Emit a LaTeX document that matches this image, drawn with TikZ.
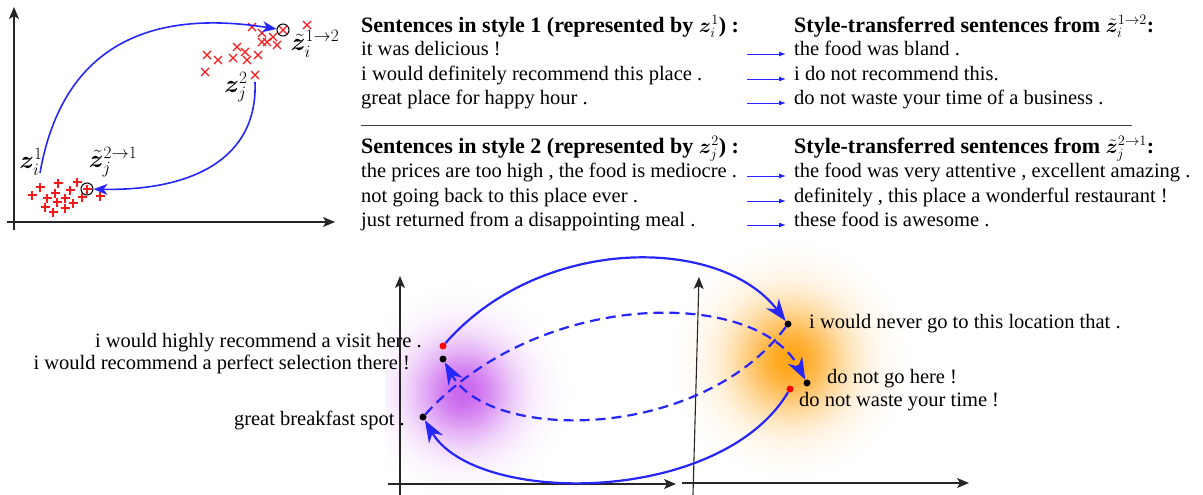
\documentclass[tikz,border=0pt]{standalone}
\usepackage{amsmath,bm}
\usepackage{fontspec}
\setmainfont{Liberation Serif}
\usetikzlibrary{arrows.meta,positioning}

\definecolor{arcblue}{RGB}{38,38,250}
\definecolor{mkred}{RGB}{245,25,25}
\definecolor{glowpurple}{RGB}{195,80,235}
\definecolor{gloworange}{RGB}{255,160,10}

\newcommand{\zb}{\boldsymbol{z}}
\newcommand{\zt}{\tilde{\boldsymbol{z}}}

\tikzset{
  txt/.style={inner sep=0pt, font=\fontsize{20.5}{24.5}\selectfont},
  hdr/.style={inner sep=0pt, font=\fontsize{22}{24.5}\selectfont\bfseries},
  ztag/.style={inner sep=0pt, font=\fontsize{23}{26}\selectfont},
  axis/.style={black!85, line width=1.1pt, -{Stealth[length=12pt,width=10pt,inset=3pt]}},
  flow/.style={arcblue, line width=1.6pt, -{Stealth[length=14pt,width=11pt,inset=4pt]}},
  bigflow/.style={arcblue, line width=2.2pt, -{Stealth[length=22pt,width=16pt,inset=7pt]}},
  linkarr/.style={arcblue, line width=0.9pt, -{Latex[length=7pt,width=5pt]}},
  embdot/.style={circle, fill=#1, inner sep=0pt, minimum size=7pt},
  ring/.style={circle, draw=black, line width=1pt, inner sep=0pt, minimum size=12pt},
  mk/.style={mkred, line width=1.2pt},
}

\begin{document}
\begin{tikzpicture}[x=1pt,y=-1pt]
  \useasboundingbox (0,0) rectangle (1203,495);

  %% top left: latent space
  \draw[axis] (14,230) -- (14,7);
  \draw[axis] (7,222) -- (335,222);
  \foreach \x/\y in {40/187,58/183,77/182,32/195,47/198,55/193,70/190,65/198,
                     82/197,45/207,57/202,73/203,65/208,53/212,100/196,87/189}
    \draw[mk] (\x-4.5,\y) -- (\x+4.5,\y) (\x,\y-4.5) -- (\x,\y+4.5);
  \foreach \x/\y in {252/27,262/33,273/37,307/25,283/30,262/42,277/45,237/47,245/52,
                     207/55,218/60,233/58,247/60,258/55,205/72,255/75,267/42}
    \draw[mk] (\x-4,\y-4) -- (\x+4,\y+4) (\x-4,\y+4) -- (\x+4,\y-4);
  \node[ring] (zti) at (283,30) {};
  \node[ring] (ztj) at (87,189) {};
  \coordinate (zi) at (40,173);
  \coordinate (zj) at (255,82);
  \node[ztag] (lzi) at (31,162) {$\zb_i^1$};
  \node[ztag] (lztj) at (113,162) {$\zt_j^{2\to1}$};
  \node[ztag] (lzj) at (236,87) {$\zb_j^2$};
  \node[ztag] (lzti) at (315,44) {$\zt_i^{1\to2}$};
  \draw[flow] (zi) .. controls (65,30) and (170,12) .. (zti);
  \draw[flow] (zj) .. controls (258,160) and (190,191) .. (ztj);

  %% top right: example sentences
  \node[hdr, anchor=mid west] (h1) at (361,30) {Sentences in style 1 (represented by $\zb_i^1$) :};
  \node[txt, anchor=mid west] (s1a) at (361,53) {it was delicious !};
  \node[txt, anchor=mid west] (s1b) at (361,78) {i would definitely recommend this place .};
  \node[txt, anchor=mid west] (s1c) at (361,102) {great place for happy hour .};
  \node[hdr, anchor=mid west] (g1) at (794,30) {Style-transferred sentences from $\zt_i^{1\to2}$:};
  \node[txt, anchor=mid west] (t1a) at (794,53) {the food was bland .};
  \node[txt, anchor=mid west] (t1b) at (794,78) {i do not recommend this.};
  \node[txt, anchor=mid west] (t1c) at (794,102) {do not waste your time of a business .};
  \draw[black!75, line width=1pt] (361,125) -- (1132,125);
  \node[hdr, anchor=mid west] (h2) at (361,151) {Sentences in style 2 (represented by $\zb_j^2$) :};
  \node[txt, anchor=mid west] (s2a) at (361,175) {the prices are too high , the food is mediocre .};
  \node[txt, anchor=mid west] (s2b) at (361,200) {not going back to this place ever .};
  \node[txt, anchor=mid west] (s2c) at (361,224) {just returned from a disappointing meal .};
  \node[hdr, anchor=mid west] (g2) at (794,151) {Style-transferred sentences from $\zt_j^{2\to1}$:};
  \node[txt, anchor=mid west] (t2a) at (794,175) {the food was very attentive , excellent amazing .};
  \node[txt, anchor=mid west] (t2b) at (794,200) {definitely , this place a wonderful restaurant !};
  \node[txt, anchor=mid west] (t2c) at (794,224) {these food is awesome .};
  \foreach \t in {t1a,t1b,t1c,t2a,t2b,t2c}
    \draw[linkarr] ([xshift=-47pt,yshift=-1pt]\t.mid west) -- ([xshift=-8pt,yshift=-1pt]\t.mid west);

  %% bottom: two style spaces, soft blobs first
  \begin{scope}
    \clip (385,250) rectangle (690,495);
    \foreach \r in {110,108,...,2} {
      \pgfmathsetmacro\p{88*exp(-(\r/50)^2)}
      \fill[glowpurple!\p] (463,392) circle (\r);
    }
  \end{scope}
  \foreach \r in {120,118,...,2} {
    \pgfmathsetmacro\p{95*exp(-(\r/56)^2)}
    \fill[gloworange!\p] (790,360) circle (\r);
  }
  \draw[axis] (400,495) -- (400,276);
  \draw[axis] (388,484) -- (676,484);
  \draw[axis] (693,495) -- (699,277);
  \draw[axis] (682,483) -- (969,483);

  \node[embdot=red] (r1) at (443,346) {};
  \node[embdot=black] (b1) at (443,359) {};
  \node[embdot=black] (b2) at (423,417) {};
  \node[embdot=black] (b3) at (788,324) {};
  \node[embdot=black] (b4) at (807,383) {};
  \node[embdot=red] (r2) at (790,389) {};

  \node[txt, anchor=mid east] (u1) at (422,345) {i would highly recommend a visit here .};
  \node[txt, anchor=mid east] (u2) at (410,367) {i would recommend a perfect selection there !};
  \node[txt, anchor=mid east] (u3) at (405,423) {great breakfast spot .};
  \node[txt, anchor=mid west] (v1) at (809,326) {i would never go to this location that .};
  \node[txt, anchor=mid west] (v2) at (827,381) {do not go here !};
  \node[txt, anchor=mid west] (v3) at (799,404) {do not waste your time !};

  \draw[bigflow] (r1) .. controls (540,235) and (720,235) .. (b3);
  \draw[bigflow, dash pattern=on 10pt off 6pt] (b2) .. controls (540,288) and (757,288) .. (b4);
  \draw[bigflow, dash pattern=on 10pt off 6pt] (b3) .. controls (700,442) and (489,442) .. (b1);
  \draw[bigflow] (r2) .. controls (720,506) and (475,506) .. (b2);
\end{tikzpicture}
\end{document}
